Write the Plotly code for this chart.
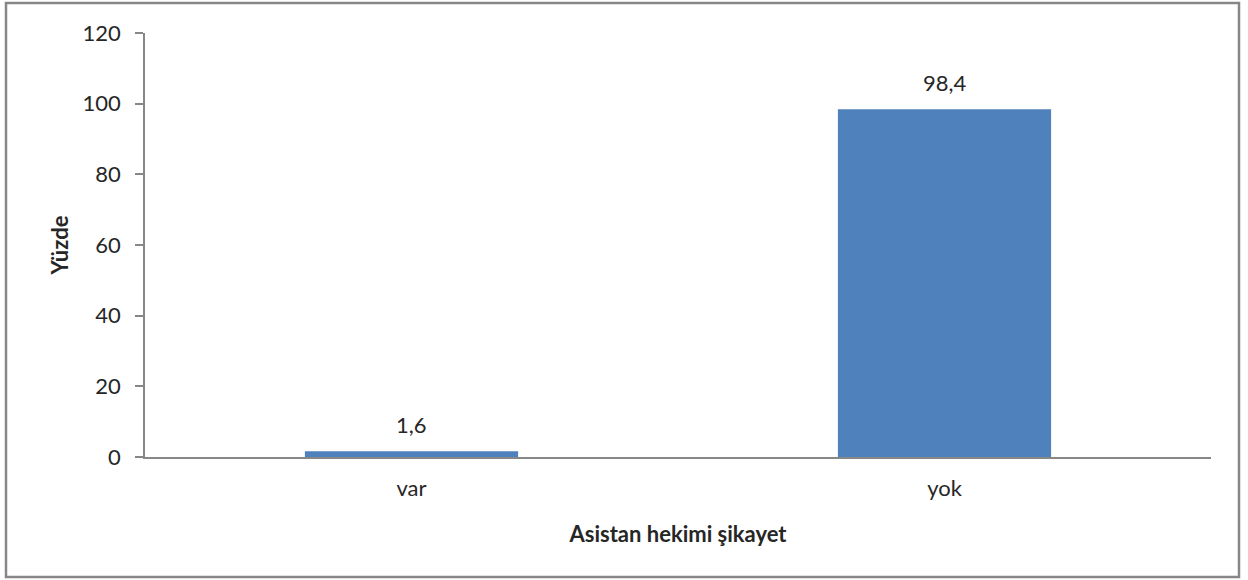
import plotly.graph_objects as go

categories = ["var", "yok"]
values = [1.6, 98.4]
y_ticks = [0, 20, 40, 60, 80, 100, 120]

bar_color = "#4F81BD"
axis_color = "#878787"
font_family = "Lato, 'Open Sans', sans-serif"

fig = go.Figure(
    go.Bar(
        x=categories,
        y=values,
        width=0.4,
        marker=dict(color=bar_color, line=dict(width=0)),
        hoverinfo="skip",
    )
)

# value labels above each bar
for cat, val in zip(categories, values):
    fig.add_annotation(
        x=cat, y=val, text=f"{val:.1f}".replace(".", ","),
        showarrow=False, yanchor="bottom", yshift=11,
        font=dict(family=font_family, size=22, color="#262626"),
    )

# outer frame of the chart
L, R, T, B = 145, 1211, 33, 457
W, H = 1248, 580
fig.add_shape(
    type="rect", xref="paper", yref="paper",
    x0=(6 - L) / (R - L), x1=(1239 - L) / (R - L),
    y0=(B - 577) / (B - T), y1=(B - 3) / (B - T),
    line=dict(color=axis_color, width=2.5), fillcolor="rgba(0,0,0,0)",
    layer="below",
)

fig.update_layout(
    width=W, height=H,
    margin=dict(l=L, r=W - R, t=T, b=H - B),
    paper_bgcolor="white", plot_bgcolor="white",
    showlegend=False,
    separators=",.",
    font=dict(family=font_family, size=22, color="#262626"),
    xaxis=dict(
        showline=True, linecolor=axis_color, linewidth=1.5,
        ticks="", showgrid=False, zeroline=False,
        tickfont=dict(size=22), ticklabelstandoff=11,
        title=dict(text="<b>Asistan hekimi şikayet</b>", font=dict(size=22), standoff=26),
        range=[-0.5, 1.5], fixedrange=True,
    ),
    yaxis=dict(
        range=[0, 120], tickvals=y_ticks,
        showline=True, linecolor=axis_color, linewidth=1.5,
        ticks="outside", ticklen=8, tickcolor=axis_color, tickwidth=1.5,
        showgrid=False, zeroline=False,
        tickfont=dict(size=22), ticklabelstandoff=10,
        title=dict(text="<b>Yüzde</b>", font=dict(size=22), standoff=8),
        fixedrange=True,
    ),
)

fig.write_html("out.html")
